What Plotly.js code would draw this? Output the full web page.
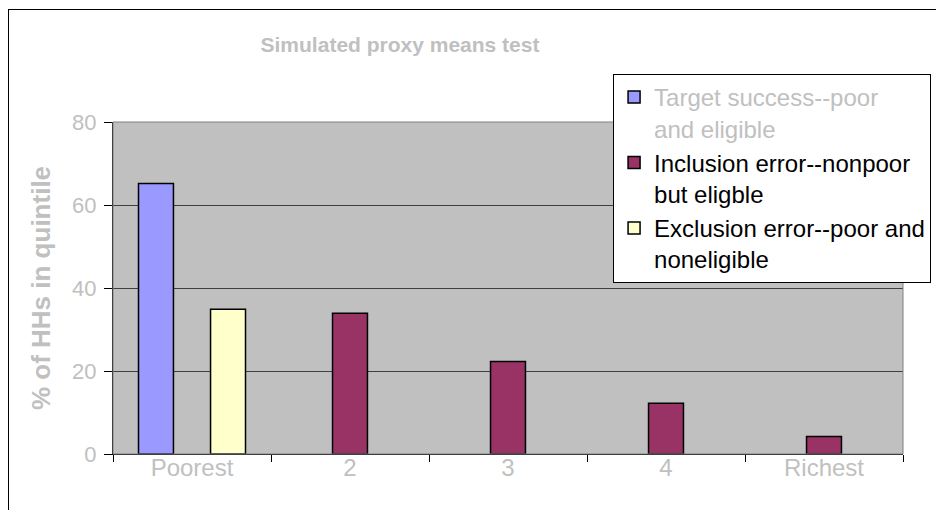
<!DOCTYPE html>
<html>
<head>
<meta charset="utf-8">
<script src="https://cdn.plot.ly/plotly-3.0.1.min.js"></script>
<style>
  html, body { margin: 0; padding: 0; background: #ffffff; overflow: hidden; }
  #chart { position: absolute; left: 0; top: 0; width: 936px; height: 510px; }
  #frame { position: absolute; left: 8px; top: 9px; width: 1000px; height: 600px;
           border-left: 1px solid #000; border-top: 1px solid #000; pointer-events: none; }
</style>
</head>
<body>
<div id="chart"></div>
<div id="frame"></div>
<script>
// ---- data ----
const quintiles = ['Poorest', '2', '3', '4', 'Richest'];
const targetSuccess = [65.2, null, null, null, null];
const inclusionError = [null, 33.9, 22.3, 12.2, 4.2];
const exclusionError = [34.9, null, null, null, null];
const seriesNames = [
  '<span style="color:#c0c0c0">Target success--poor</span><br><span style="color:#c0c0c0">and eligible</span>',
  'Inclusion error--nonpoor<br>but eligble',
  'Exclusion error--poor and<br>noneligible'
];
const yTicks = [0, 20, 40, 60, 80];

const FONT = 'Liberation Sans, Arial, sans-serif';
const GREY = '#c0c0c0';

const traces = [
  { type: 'bar', x: quintiles, y: targetSuccess, name: seriesNames[0], legendgroup: 'a',
    marker: { color: '#9999ff', line: { color: '#000000', width: 1.5 } } },
  { type: 'bar', x: quintiles, y: inclusionError, name: seriesNames[1], legendgroup: 'b',
    marker: { color: '#993366', line: { color: '#000000', width: 1.5 } } },
  { type: 'bar', x: quintiles, y: exclusionError, name: seriesNames[2], legendgroup: 'c',
    marker: { color: '#ffffcc', line: { color: '#000000', width: 1.5 } } }
];

const layout = {
  width: 936, height: 510,
  margin: { l: 113, r: 33, t: 122, b: 56, pad: 0, autoexpand: false },
  paper_bgcolor: 'rgba(0,0,0,0)',
  plot_bgcolor: '#c0c0c0',
  font: { family: FONT, color: GREY },
  barmode: 'group',
  bargap: 0.316,
  bargroupgap: 0.03,
  title: {
    text: '<b>Simulated proxy means test</b>',
    font: { family: FONT, size: 21, color: GREY },
    x: 400 / 936, xref: 'container', xanchor: 'center',
    y: 1 - 45 / 510, yref: 'container', yanchor: 'middle'
  },
  xaxis: {
    type: 'category',
    tickson: 'boundaries',
    ticks: 'outside', ticklen: 7, tickcolor: '#000', tickwidth: 1,
    showline: true, linecolor: '#000', linewidth: 1,
    showgrid: false,
    tickfont: { family: FONT, size: 24, color: GREY },
    ticklabelstandoff: -8,
    fixedrange: true
  },
  yaxis: {
    range: [0, 80],
    tickvals: yTicks,
    ticktext: yTicks.map(String),
    ticks: 'outside', ticklen: 8, tickcolor: '#000', tickwidth: 1,
    showline: true, linecolor: '#000', linewidth: 1,
    showgrid: true, gridcolor: '#404040', gridwidth: 1,
    zeroline: false,
    tickfont: { family: FONT, size: 22, color: GREY },
    ticklabelstandoff: 3,
    title: { text: '<b>% of HHs in quintile</b>', font: { family: FONT, size: 26, color: GREY }, standoff: 14 },
    fixedrange: true
  },
  shapes: [
    { type: 'rect', xref: 'paper', yref: 'paper', x0: 0, x1: 1, y0: 0, y1: 1,
      line: { color: '#808080', width: 1 }, fillcolor: 'rgba(0,0,0,0)', layer: 'above' }
  ],
  legend: {
    x: 0.633, y: 1.1446, xanchor: 'left', yanchor: 'top',
    xref: 'paper', yref: 'paper',
    bgcolor: '#ffffff', bordercolor: '#000000', borderwidth: 1,
    font: { family: FONT, size: 24, color: '#000000' },
    traceorder: 'normal',
    tracegroupgap: 12,
    valign: 'top',
    itemwidth: 30
  },
  showlegend: true
};

Plotly.newPlot('chart', traces, layout, { displayModeBar: false, staticPlot: true });
</script>
</body>
</html>
